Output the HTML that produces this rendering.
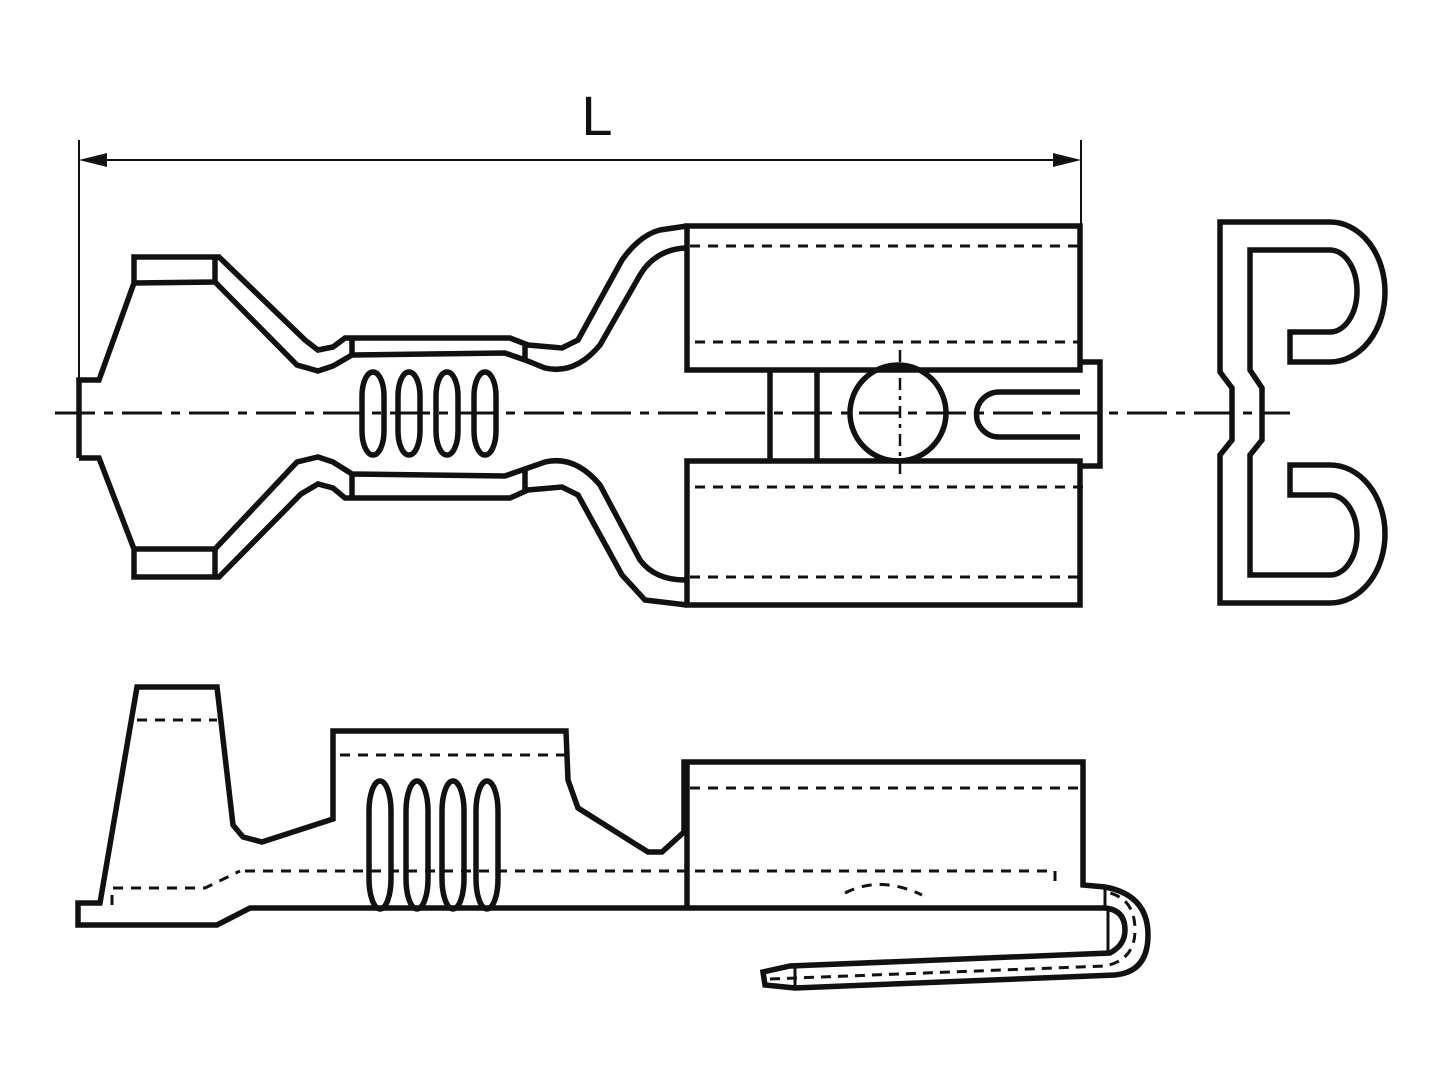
<!DOCTYPE html>
<html><head><style>html,body{margin:0;padding:0;background:#fff}svg{display:block}</style></head>
<body>
<svg width="1440" height="1080" viewBox="0 0 1440 1080" xmlns="http://www.w3.org/2000/svg">
<g fill="none" stroke="#111" stroke-width="5.5" stroke-linejoin="miter">
<line x1="79" y1="140" x2="79" y2="382" stroke-width="2"/>
<line x1="1081" y1="140" x2="1081" y2="226" stroke-width="2"/>
<line x1="85" y1="160" x2="1075" y2="160" stroke-width="2"/>
<polygon points="79,160 107,153 107,167" fill="#111" stroke="none"/>
<polygon points="1081,160 1053,153 1053,167" fill="#111" stroke="none"/>

<line x1="55" y1="413" x2="1290" y2="413" stroke-width="3" stroke-dasharray="40,9,9,9"/>

<path d="M79,458 V380 H99 L134,283 V257 H219 L305,340 L318,350 L333,347 L345,338 H510 L528,345 L562,348 L578,340 L622,260 Q640,235 660,230 L687,226"/>
<path d="M134,283 L215,282 V257"/>
<path d="M215,282 L297,365 L318,371 L333,366 L352,355 L505,353 L525,360 L545,368 Q575,375 600,345 L640,275 Q655,250 685,248"/>
<line x1="352" y1="338" x2="352" y2="356"/>
<line x1="525" y1="345" x2="525" y2="361"/>
<path d="M79,458 L99,458 L134,549 V577 H219 L301,494 L318,484 L333,488 L345,498 H510 L528,490 L562,487 L578,495 L622,575 L645,600 L687,605"/>
<path d="M134,549 H215 V577"/>
<path d="M215,549 L297,462 L318,457 L333,462 L352,474 L505,476 L525,469 L545,462 Q575,455 600,485 L640,560 Q655,580 685,580"/>
<line x1="352" y1="474" x2="352" y2="498"/>
<line x1="525" y1="469" x2="525" y2="490"/>
<rect x="362" y="372" width="22" height="83" rx="11" ry="24"/>
<rect x="398" y="372" width="22" height="83" rx="11" ry="24"/>
<rect x="436" y="372" width="22" height="83" rx="11" ry="24"/>
<rect x="474" y="372" width="22" height="83" rx="11" ry="24"/>
<rect x="687" y="226" width="393" height="144"/>
<rect x="687" y="461" width="393" height="144"/>
<line x1="690" y1="246" x2="1080" y2="246" stroke-width="3" stroke-dasharray="10,8"/>
<line x1="695" y1="342" x2="1080" y2="342" stroke-width="3" stroke-dasharray="10,8"/>
<line x1="695" y1="487" x2="1085" y2="487" stroke-width="3" stroke-dasharray="10,8"/>
<line x1="690" y1="577" x2="1080" y2="577" stroke-width="3" stroke-dasharray="10,8"/>
<line x1="770" y1="370" x2="770" y2="461"/>
<line x1="817" y1="370" x2="817" y2="461"/>
<circle cx="898" cy="413" r="48"/>
<line x1="900" y1="350" x2="900" y2="476" stroke-width="2.5" stroke-dasharray="12,6,4,6"/>
<path d="M1080,392 H999 A22,22 0 0 0 999,437 H1080"/>
<path d="M1080,362 H1100 V466 H1080"/>
<path d="M1220,222 H1330 A55,70 0 0 1 1330,362 H1290 V332 H1330 A27,41 0 0 0 1330,250 H1250 V370 L1262,388 V440 L1250,455 V575 H1330 A27,40 0 0 0 1330,495 H1290 V465 H1330 A55,69 0 0 1 1330,603 H1220 V455 L1232,440 V388 L1220,372 Z"/>

<path d="M78,903 H100 L137,687 H217 L233,825 L243,837 L262,842 L333,819 V731 H566 L568,780 L578,808 L648,852 L662,852 L684,832 V762 H1083 V885 L1105,887 Q1148,895 1148,935 Q1148,972 1115,975 L795,988 L765,985 L763,972 L790,966 L1110,953 Q1125,945 1125,930 Q1125,910 1105,908 H250 L217,925 H78 Z"/>
<line x1="687" y1="762" x2="687" y2="908"/>
<line x1="1108" y1="908" x2="1108" y2="953" stroke-width="3"/>
<line x1="1105" y1="887" x2="1105" y2="908" stroke-width="3"/>
<line x1="795" y1="966" x2="795" y2="988" stroke-width="3"/>
<line x1="137" y1="720" x2="217" y2="720" stroke-width="3" stroke-dasharray="10,8"/>
<line x1="340" y1="755" x2="565" y2="755" stroke-width="3" stroke-dasharray="10,8"/>
<line x1="690" y1="788" x2="1083" y2="788" stroke-width="3" stroke-dasharray="10,8"/>
<path d="M245,871 H1055 V886" stroke-width="3" stroke-dasharray="10,8"/>
<path d="M112,905 V888 H205 L240,871" stroke-width="3" stroke-dasharray="10,8"/>
<path d="M845,893 Q880,875 922,895" stroke-width="3" stroke-dasharray="10,8"/>
<path d="M770,979 L1105,966 Q1135,960 1135,930 Q1135,900 1110,893" stroke-width="3" stroke-dasharray="10,7"/>
<rect x="369" y="781" width="22" height="128" rx="11" ry="30"/>
<rect x="406" y="781" width="22" height="128" rx="11" ry="30"/>
<rect x="442" y="781" width="22" height="128" rx="11" ry="30"/>
<rect x="476" y="781" width="22" height="128" rx="11" ry="30"/>
</g>
<text x="597" y="135" font-family="Liberation Sans, sans-serif" font-size="56" text-anchor="middle" fill="#111">L</text>
</svg>
</body></html>
